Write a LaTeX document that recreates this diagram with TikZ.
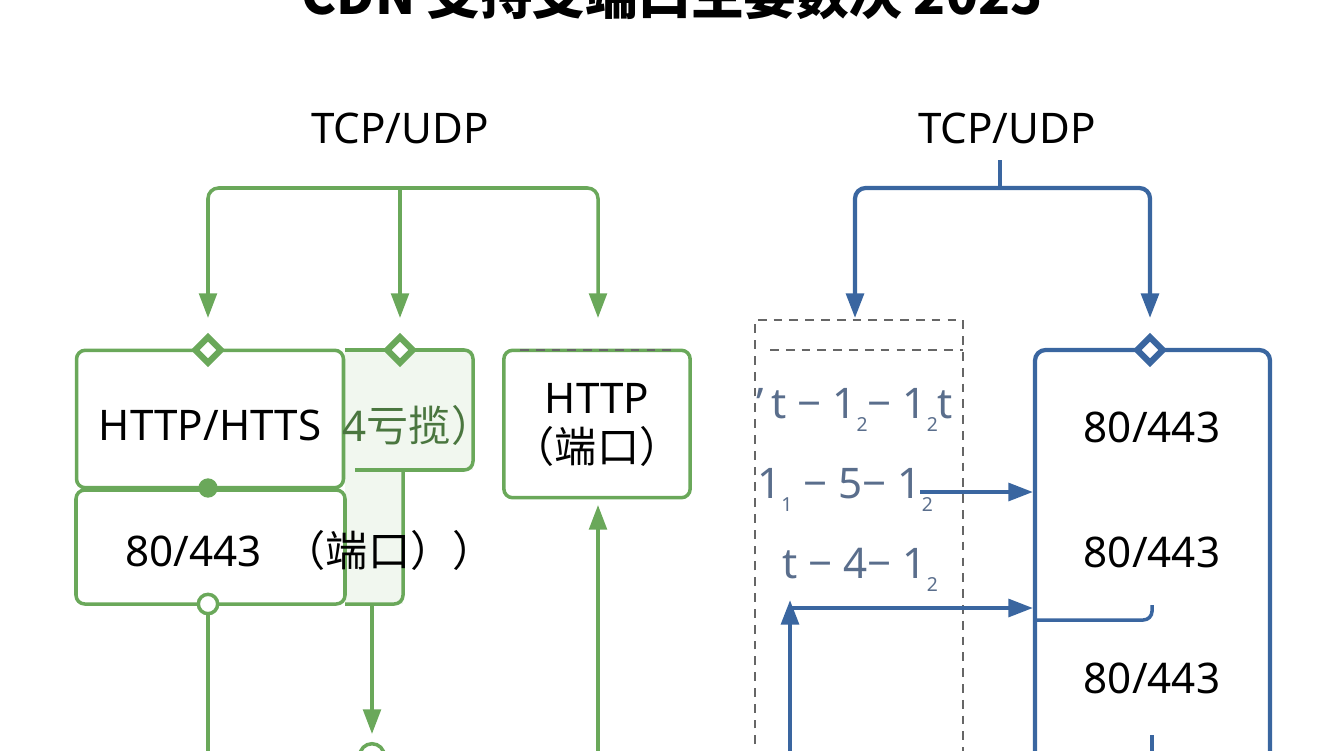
\documentclass[tikz,border=0pt]{standalone}
\usepackage{fontspec}
\setmainfont{Noto Sans}
\newfontfamily\cjk{Noto Sans CJK SC}
\usetikzlibrary{arrows.meta,shapes.geometric,calc}
\definecolor{grn}{HTML}{6AA85A}
\definecolor{blu}{HTML}{3A66A0}
\definecolor{lgrn}{HTML}{F1F7EF}
\definecolor{tgray}{HTML}{5A6E8C}
\newcommand\lo[1]{\raisebox{-0.6ex}{\fontsize{11}{11}\selectfont #1}}
\tikzset{x=0.02cm,y=-0.02cm,
  gbox/.style={draw=grn,line width=2pt,rounded corners=5pt},
  bbox/.style={draw=blu,line width=2.4pt,rounded corners=6pt},
  garr/.style={draw=grn,line width=2pt,-{Triangle[width=10pt,length=14pt]}},
  barr/.style={draw=blu,line width=2.4pt,-{Triangle[width=10pt,length=14pt]}},
  dia/.style={diamond,draw,line width=3.5pt,fill=white,inner sep=0pt,minimum size=16pt},
  lbl/.style={font=\fontsize{24}{28}\selectfont},
  dashbox/.style={draw=gray!80!black,dashed,line width=0.8pt,dash pattern=on 5pt off 4pt}}
\begin{document}
\begin{tikzpicture}
\useasboundingbox (0,0) rectangle (1344,750);
\clip (0,0) rectangle (1344,750);
% title
\node[font=\fontsize{30}{34}\selectfont\cjk\bfseries] (title) at (672,-6) {CDN 支持支端口主要数决 2025};

% green side
\node[lbl] (tl) at (400,128) {TCP/UDP};
\coordinate (g1) at (208,318);
\coordinate (g2) at (400,318);
\coordinate (g3) at (598,318);
\draw[draw=grn,line width=2pt,rounded corners=6pt] (208,300) |- (598,188) -- (598,300);
\draw[draw=grn,line width=2pt] (400,188) -- (400,300);
\foreach \c in {g1,g2,g3} \draw[garr] ($(\c)+(0,-20)$) -- (\c);
\fill[lgrn] (345,350) rectangle (473,470);
\fill[lgrn] (345,470) rectangle (403,604);
\node[gbox,minimum width=268pt*0.567,minimum height=138pt*0.567] (hb) at (210,419) {};
\node[lbl] (ht) at (210,425) {HTTP/HTTS};
\draw[gbox] (345,350) -- (473,350) -- (473,470) -- (355,470);
\node[lbl,text=grn!70!black] (kt) at (418,425) {4{\cjk 亏揽）}};
\draw[gbox] (76,490) rectangle (345,604);
\draw[gbox] (345,604) -- (403,604) -- (403,470);
\node[lbl] (pt) at (310,550) {80/443 \ {\cjk （端口））}};
\node[dia,draw=grn] (d1) at (208,350) {};
\node[dia,draw=grn] (d2) at (400,350) {};
\node[circle,fill=grn,inner sep=0pt,minimum size=11pt] (fd) at (208,488) {};
\node[circle,draw=grn,fill=white,line width=2pt,inner sep=0pt,minimum size=11pt] (od) at (208,604) {};
\coordinate (gb1) at (208,760);
\draw[draw=grn,line width=2pt] (od) -- (gb1);
\node[circle,draw=grn,line width=2pt,minimum size=14pt,inner sep=0pt] (bd) at (372,756) {};
\coordinate (gs) at (372,604);
\draw[garr] (gs) -- (372,734);
\node[gbox,minimum width=187pt*0.567,minimum height=148pt*0.567] (hp) at (597,424) {};
\draw[dashbox] (520,350) -- (675,350);
\node[lbl,align=center] (hpt) at (597,425) {HTTP\\{\cjk （端口）}};
\coordinate (gu) at (598,760);
\draw[garr] (gu) -- (598,505);

% blue side
\node[lbl] (tr) at (1007,128) {TCP/UDP};
\draw[draw=blu,line width=2.4pt,rounded corners=6pt] (855,300) |- (1150,188) -- (1150,300);
\draw[draw=blu,line width=2.4pt] (1000,160) -- (1000,188);
\coordinate (b1) at (855,318);
\coordinate (b2) at (1150,318);
\foreach \c in {b1,b2} \draw[barr] ($(\c)+(0,-20)$) -- (\c);
\draw[dashbox] (755,760) -- (755,320) -- (963,320) -- (963,760);
\draw[dashbox] (770,350) -- (963,350);
\node[lbl,text=tgray] (r1) at (855,410) {'\,t − 1\lo{2}− 1\lo{2}t};
\node[lbl,text=tgray] (r2) at (845,490) {1\lo{1} − 5− 1\lo{2}};
\node[lbl,text=tgray] (r3) at (860,570) {t − 4− 1\lo{2}};
\draw[bbox] (1035,760) -- (1035,350) -- (1270,350) -- (1270,760);
\node[dia,draw=blu] (d3) at (1150,350) {};
\node[lbl] (p1) at (1152,427) {80/443};
\node[lbl] (p2) at (1152,552) {80/443};
\node[lbl] (p3) at (1152,678) {80/443};
\coordinate (a1) at (920,492);
\coordinate (a2) at (790,608);
\coordinate (a3) at (790,760);
\draw[barr] (a1) -- (1033,492);
\draw[barr] (a2) -- (1033,608);
\draw[barr] (a3) -- (790,600);
\draw[draw=blu,line width=2pt,rounded corners=5pt] (1035,620) -- (1152,620) -- (1152,605);
\draw[draw=blu,line width=2.4pt] (1152,735) -- (1152,760);
\end{tikzpicture}
\end{document}
